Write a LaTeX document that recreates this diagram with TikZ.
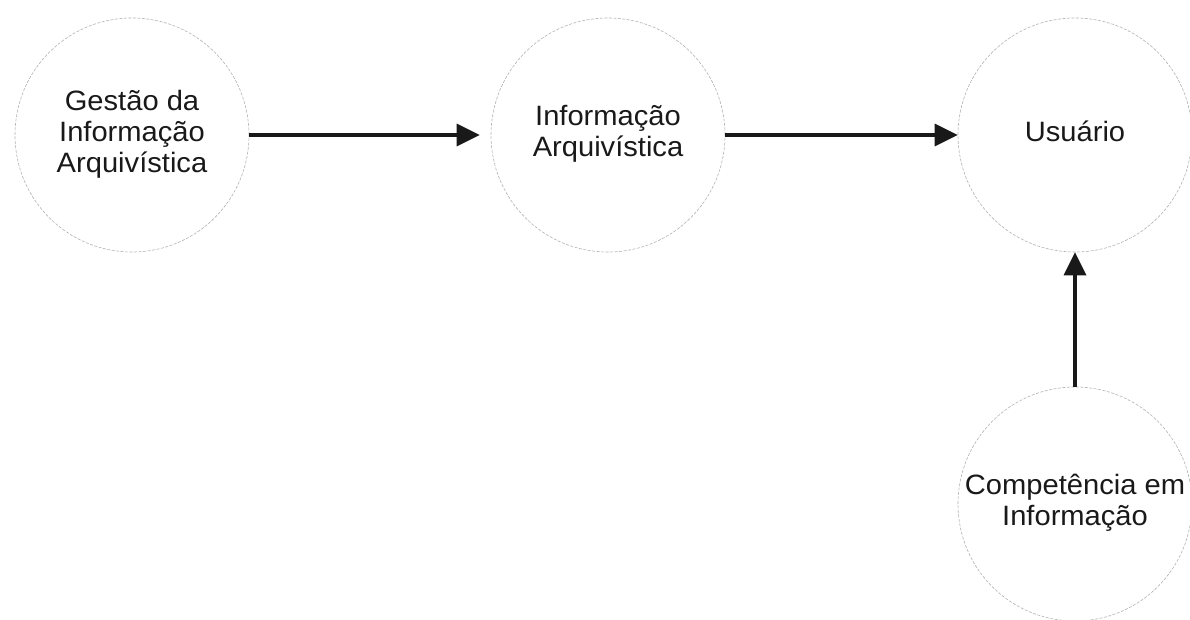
\documentclass[tikz,border=0pt]{standalone}
\usepackage{fontspec}
\setmainfont{Liberation Sans}
\usetikzlibrary{arrows.meta}
\newcommand{\lbl}[1]{\scalebox{1.04}[1]{\fontsize{28}{31}\selectfont\begin{tabular}{@{}c@{}}#1\end{tabular}}}
\tikzset{
  bubble/.style={circle, draw=gray!60, line width=0.6pt, dash pattern=on 3pt off 1.5pt, minimum size=234pt, inner sep=0pt, text=black!90},
  flow/.style={line width=3.5pt, draw=black!90, -{Triangle[length=23pt,width=22pt]}}
}
\begin{document}
\begin{tikzpicture}[x=1pt,y=-1pt]
\useasboundingbox (0,0) rectangle (1190,620);
\node[bubble] (gia) at (132,135) {\lbl{Gestão da\\Informação\\Arquivística}};
\node[bubble] (ia) at (608,135) {\lbl{Informação\\Arquivística}};
\node[bubble] (us) at (1075,135) {\lbl{Usuário}};
\node[bubble] (ci) at (1075,504) {\lbl{Competência em\\Informação}};
\draw[flow, shorten >=11pt] (gia) -- (ia);
\draw[flow] (ia) -- (us);
\draw[flow] (ci) -- (us);
\end{tikzpicture}
\end{document}
